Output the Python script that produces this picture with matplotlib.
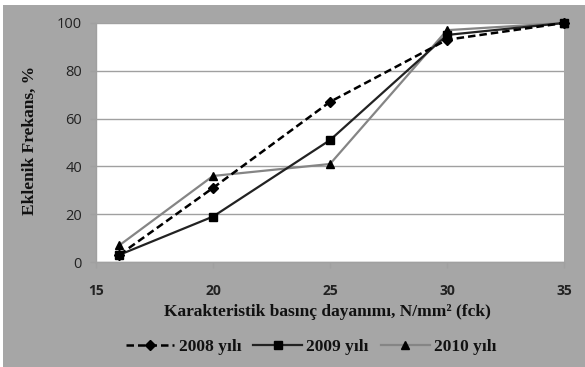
import matplotlib
matplotlib.use("Agg")
from matplotlib import pyplot as plt

strength = [16, 20, 25, 30, 35]
freq_2008 = [3, 31, 67, 93, 100]
freq_2009 = [3, 19, 51, 95, 100]
freq_2010 = [7, 36, 41, 97, 100]
labels = ["2008 yılı", "2009 yılı", "2010 yılı"]

bg = "#a6a6a6"
fig = plt.figure(figsize=(5.85, 3.67), dpi=100)
fig.patch.set_facecolor("white")
# gray chart area with a thin white margin on top and left
fig.patches.append(plt.Rectangle((3 / 585, 0), 1, 1 - 5 / 367, transform=fig.transFigure,
                                 facecolor=bg, edgecolor="none", zorder=-10))

ax = fig.add_axes([96 / 585, 1 - 262 / 367, (564 - 96) / 585, (262 - 23) / 367])
ax.set_facecolor("white")

ax.plot(strength, freq_2008, color="black", lw=1.8, ls=(0, (3, 1.6)), marker="D",
        ms=5, mfc="black", mec="black", label=labels[0], clip_on=False, zorder=4)
ax.plot(strength, freq_2009, color="#222222", lw=1.6, marker="s", ms=5.5,
        mfc="black", mec="black", label=labels[1], clip_on=False, zorder=3)
ax.plot(strength, freq_2010, color="#858585", lw=1.6, marker="^", ms=6,
        mfc="black", mec="black", label=labels[2], clip_on=False, zorder=2)

ax.set_xlim(15, 35)
ax.set_ylim(0, 100)
ax.set_xticks([15, 20, 25, 30, 35])
ax.set_yticks([0, 20, 40, 60, 80, 100])
ax.yaxis.grid(True, color="#a0a0a0", lw=1)
ax.set_axisbelow(True)

for side in ["top", "right"]:
    ax.spines[side].set_visible(False)
for side in ["left", "bottom"]:
    ax.spines[side].set_color("#a0a0a0")
    ax.spines[side].set_linewidth(1)
ax.tick_params(axis="both", direction="out", length=4, color="#a0a0a0", width=1)
ax.tick_params(axis="y", pad=6)
ax.tick_params(axis="x", pad=12)

for t in ax.get_yticklabels():
    t.set_fontfamily("Open Sans")
    t.set_fontsize(10.5)
    t.set_color("#222222")
for t in ax.get_xticklabels():
    t.set_fontfamily("Open Sans")
    t.set_fontsize(10)
    t.set_fontweight("bold")
    t.set_color("#222222")

serif = {"family": "Liberation Serif", "weight": "bold", "size": 12.5, "color": "#111111"}
fig.text(327 / 585, 1 - 312 / 367, "Karakteristik basınç dayanımı, N/mm² (fck)",
         ha="center", va="center", fontdict=serif)
fig.text(30 / 585, 1 - 140 / 367, "Eklenik Frekans, %", rotation=90,
         ha="center", va="center", fontdict=serif)

handles, _ = ax.get_legend_handles_labels()
leg = fig.legend(handles, labels, loc="center", bbox_to_anchor=(311 / 585, 1 - 347 / 367),
                 ncol=3, frameon=False, handlelength=2.8, columnspacing=0.7,
                 handletextpad=0.25, prop={"family": "Liberation Serif", "weight": "bold", "size": 12.5})
for t in leg.get_texts():
    t.set_color("#111111")

fig.savefig("out.png", dpi=100, facecolor=fig.get_facecolor())
